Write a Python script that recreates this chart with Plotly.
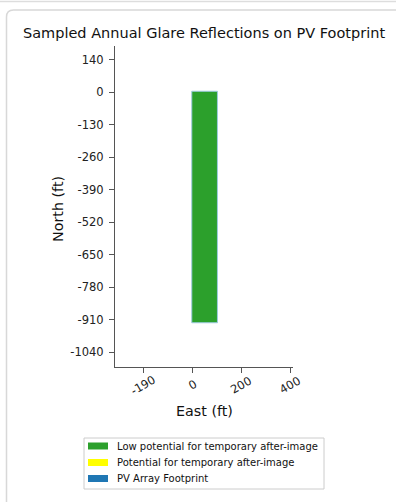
import plotly.graph_objects as go

# Data
footprint_east = [-2, 103, 103, -2, -2]
footprint_north = [4, 4, -922, -922, 4]
series_names = ["Low potential for temporary after-image",
                "Potential for temporary after-image",
                "PV Array Footprint"]
series_colors = ["#2ca02c", "#ffff00", "#1f77b4"]
x_tick_vals = [-200, 0, 200, 400]
x_tick_text = ["-190", "0", "200", "400"]
y_tick_vals = [130, 0, -130, -260, -390, -520, -650, -780, -910, -1040]
y_tick_text = ["140", "0", "-130", "-260", "-390", "-520", "-650", "-780", "-910", "-1040"]

W, H = 396, 502
L, R, T, B = 115, 293, 46, 367
pw, ph = R - L, B - T

def px(xp):
    return (xp - L) / pw

def py(yp):
    return (B - yp) / ph

fig = go.Figure()
fig.add_trace(go.Scatter(x=footprint_east, y=footprint_north, mode="lines", fill="toself",
                         fillcolor=series_colors[0], line=dict(color=series_colors[0], width=0),
                         name=series_names[0], hoverinfo="skip"))
fig.add_trace(go.Scatter(x=footprint_east, y=footprint_north, mode="lines",
                         line=dict(color="#9ecae1", width=1), name=series_names[2], hoverinfo="skip"))

axis_common = dict(showgrid=False, zeroline=False, showline=True, linecolor="#555", linewidth=1,
                   ticks="outside", ticklen=5, tickcolor="#555", tickwidth=1,
                   tickfont=dict(family="DejaVu Sans", size=11.5, color="#222"))
fig.update_xaxes(range=[-316, 412], tickvals=x_tick_vals, ticktext=x_tick_text,
                 showticklabels=False, **axis_common)
fig.update_yaxes(range=[-1099, 185], tickvals=y_tick_vals, ticktext=y_tick_text,
                 ticklabelstandoff=3, **axis_common)

annotations = []
for v, t in zip(x_tick_vals, x_tick_text):
    annotations.append(dict(x=v, y=py(385), xref="x", yref="paper", text=t, showarrow=False,
                            textangle=-30, xanchor="center", yanchor="middle",
                            font=dict(family="DejaVu Sans", size=11.5, color="#222")))
annotations.append(dict(x=px(204), y=py(33), xref="paper", yref="paper",
                        text="Sampled Annual Glare Reflections on PV Footprint", showarrow=False,
                        xanchor="center", yanchor="middle",
                        font=dict(family="DejaVu Sans", size=14.5, color="#111")))
annotations.append(dict(x=px(204), y=py(411), xref="paper", yref="paper", text="East (ft)",
                        showarrow=False, xanchor="center", yanchor="middle",
                        font=dict(family="DejaVu Sans", size=14.3, color="#111")))
annotations.append(dict(x=px(58), y=py(209), xref="paper", yref="paper", text="North (ft)",
                        showarrow=False, textangle=-90, xanchor="center", yanchor="middle",
                        font=dict(family="DejaVu Sans", size=14.3, color="#111")))

# card border with rounded top-left corner
x0, y0, r = 6.5, 10, 7
path = (f"M {px(x0)} {py(560)} L {px(x0)} {py(y0 + r)} "
        f"Q {px(x0)} {py(y0)} {px(x0 + r)} {py(y0)} L {px(440)} {py(y0)}")
shapes = [
    dict(type="path", xref="paper", yref="paper", path=path,
         line=dict(color="#d8d8d8", width=1.5), layer="below"),
    dict(type="line", xref="paper", yref="paper", x0=px(-10), x1=px(420), y0=py(1.5), y1=py(1.5),
         line=dict(color="#dddddd", width=1.5), layer="below"),
    # legend frame
    dict(type="rect", xref="paper", yref="paper", x0=px(84), x1=px(324), y0=py(438), y1=py(489),
         line=dict(color="#cccccc", width=1), fillcolor="white", layer="above"),
]

# manual legend (matplotlib style patches)
row_y = [446, 462.5, 478.5]
for name, color, yy in zip(series_names, series_colors, row_y):
    shapes.append(dict(type="rect", xref="paper", yref="paper", x0=px(88), x1=px(108),
                       y0=py(yy + 3.5), y1=py(yy - 3.5), line=dict(width=0), fillcolor=color,
                       layer="above"))
    annotations.append(dict(x=px(115), y=py(yy), xref="paper", yref="paper", text=name,
                            showarrow=False, xanchor="left", yanchor="middle",
                            font=dict(family="DejaVu Sans", size=10, color="#111")))

fig.update_layout(
    width=W, height=H, margin=dict(l=L, r=W - R, t=T, b=H - B, pad=0),
    paper_bgcolor="white", plot_bgcolor="white",
    showlegend=False,
    annotations=annotations, shapes=shapes,
)

fig.write_html("out.html", config={"displayModeBar": False},
               post_script="document.body.style.margin='0';document.body.style.overflow='hidden';")
